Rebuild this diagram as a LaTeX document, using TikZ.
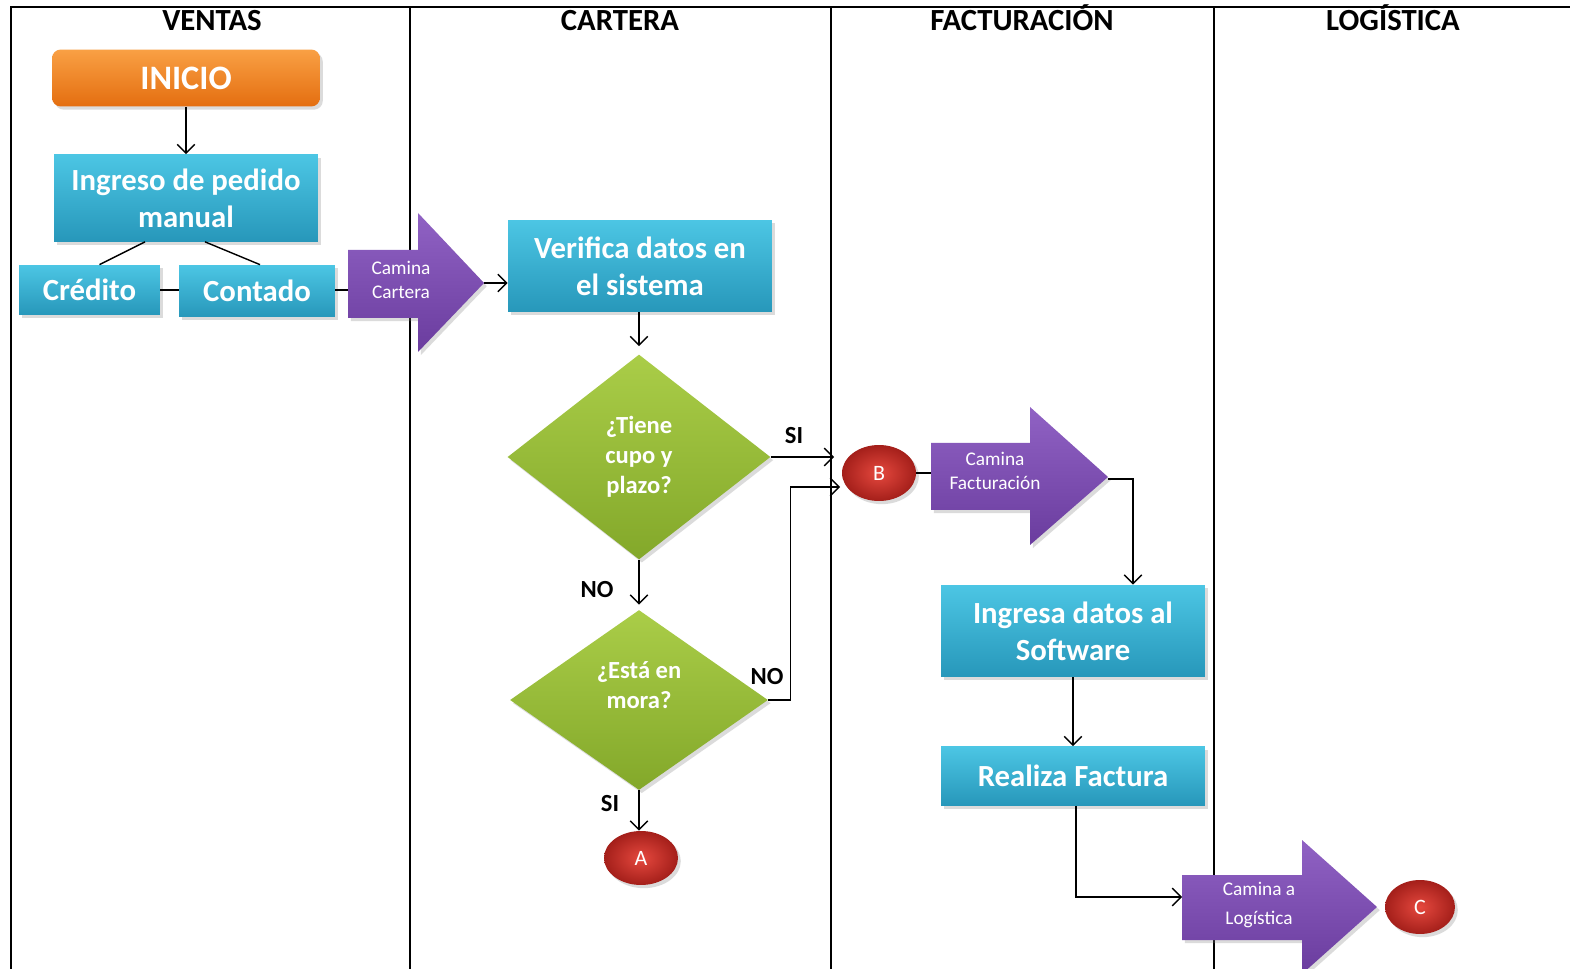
\documentclass[tikz,border=0pt]{standalone}
\usepackage{fontspec}
\setmainfont{Carlito}
\usetikzlibrary{arrows.meta,shapes.geometric,shadows,calc}

\definecolor{cyanT}{HTML}{4CC6E4}
\definecolor{cyanB}{HTML}{2797BA}
\definecolor{orgT}{HTML}{F9A044}
\definecolor{orgB}{HTML}{E46E10}
\definecolor{grnT}{HTML}{AACD48}
\definecolor{grnB}{HTML}{83A82A}
\definecolor{purT}{HTML}{9062C4}
\definecolor{purB}{HTML}{6A3C9E}
\definecolor{redI}{HTML}{E5483E}
\definecolor{redO}{HTML}{A41F1A}

\tikzset{
  soft/.style={drop shadow={opacity=0.28, shadow xshift=1.6pt, shadow yshift=-1.8pt}},
  box/.style={rectangle, soft, top color=cyanT, bottom color=cyanB, text=white,
    font=\bfseries\fontsize{17.5}{21}\selectfont, align=center, inner sep=0},
  startbox/.style={rectangle, rounded corners=5pt, soft, top color=orgT, bottom color=orgB,
    text=white, font=\bfseries\fontsize{19.5}{22}\selectfont, inner sep=0},
  decision/.style={diamond, soft, top color=grnT, bottom color=grnB, inner sep=0},
  dectext/.style={text=white, font=\bfseries\fontsize{14}{17}\selectfont, align=center},
  connector/.style={ellipse, soft, inner color=redI, outer color=redO, text=white,
    font=\fontsize{12.5}{13}\selectfont, inner sep=0},
  walk/.style={soft, top color=purT, bottom color=purB},
  walktext/.style={text=white, font=\fontsize{11}{13.5}\selectfont, align=center},
  flow/.style={line width=0.8pt, -{Straight Barb[length=5pt,width=10pt]}},
  link/.style={line width=0.8pt},
  lane/.style={line width=1.1pt},
  lanetitle/.style={font=\bfseries\fontsize{17.5}{20}\selectfont, anchor=base},
  answer/.style={font=\bfseries\fontsize{14}{16}\selectfont}
}

\begin{document}
\begin{tikzpicture}[x=0.02cm, y=-0.02cm]
\useasboundingbox (0,0) rectangle (1570,969);
\fill[white] (0,0) rectangle (1570,969);

% swimlane frame, kept behind the shapes
\draw[lane] (11,969) -- (11,7) -- (1570,7);
\draw[lane] (410,7) -- (410,969);
\draw[lane] (831,7) -- (831,969);
\draw[lane] (1214,7) -- (1214,969);

% lane titles
\node[lanetitle] (tVentas) at (212,31) {VENTAS};
\node[lanetitle] (tCartera) at (620,31) {CARTERA};
\node[lanetitle] (tFact) at (1022,31) {FACTURACIÓN};
\node[lanetitle] (tLog) at (1393,31) {LOGÍSTICA};

% VENTAS
\node[startbox, minimum width=5.36cm, minimum height=1.14cm] (inicio) at (186,78) {INICIO};
\node[box, minimum width=5.28cm, minimum height=1.74cm] (ingreso) at (186,198) {Ingreso de pedido\\manual};
\node[box, minimum width=2.82cm, minimum height=1.0cm] (credito) at (89.5,290) {Crédito};
\node[box, minimum width=3.12cm, minimum height=1.04cm] (contado) at (257,291) {Contado};

% walking arrow to CARTERA
\path[walk] (348,250) -- (418,250) -- (418,213) -- (484,283) -- (418,352) -- (418,318) -- (348,318) -- cycle;
\coordinate (wc-tail) at (348,290);
\coordinate (wc-tip) at (484,283);
\node[walktext] (wc) at (401,280) {Camina\\Cartera};

% CARTERA
\node[box, minimum width=5.28cm, minimum height=1.84cm] (verifica) at (640,266) {Verifica datos en\\el sistema};
\node[decision, minimum width=5.26cm, minimum height=4.1cm] (d1) at (639,457) {};
\node[dectext] (d1t) at (d1) {¿Tiene\\cupo y\\plazo?};
\node[decision, minimum width=5.16cm, minimum height=3.6cm] (d2) at (639,700) {};
\node[dectext] (d2t) at ([yshift=0.3cm]d2) {¿Está en\\mora?};
\node[connector, minimum width=1.48cm, minimum height=1.08cm] (A) at (641,858) {A};

% FACTURACION
\node[connector, minimum width=1.48cm, minimum height=1.12cm] (B) at (879,473) {B};
\coordinate (b-in1) at (834,457);
\coordinate (b-in2) at (840,487);
\path[walk] (931,443) -- (1030,443) -- (1030,407) -- (1108,477) -- (1030,545) -- (1030,510) -- (931,510) -- cycle;
\coordinate (wf-tail) at (931,468);
\coordinate (wf-tip) at (1108,479);
\node[walktext] (wf) at (995,471) {Camina\\Facturación};
\node[box, minimum width=5.28cm, minimum height=1.84cm] (ingresa) at (1073,631) {Ingresa datos al\\Software};
\node[box, minimum width=5.28cm, minimum height=1.18cm] (realiza) at (1073,776) {Realiza Factura};

% walking arrow to LOGISTICA
\path[walk] (1182,875) -- (1302,875) -- (1302,840) -- (1377,907) -- (1302,974) -- (1302,940) -- (1182,940) -- cycle;
\coordinate (wl-in) at (1182,897);
\coordinate (wl-tip) at (1377,907);
\node[walktext, font=\fontsize{11}{16}\selectfont] (wl) at (1259,905) {Camina a\\Logística};
\node[connector, minimum width=1.4cm, minimum height=1.08cm] (C) at (1420,907) {C};

% connectors
\draw[flow] (inicio) -- (ingreso);
\draw[link] ([xshift=-0.82cm]ingreso.south) -- ([xshift=0.2cm]credito.north);
\draw[link] ([xshift=0.38cm]ingreso.south) -- ([xshift=0.06cm]contado.north);
\draw[link] (credito.east) -- (credito.east -| contado.west);
\draw[link] (contado.east |- wc-tail) -- (wc-tail);
\draw[flow] (wc-tip) -- (verifica.west |- wc-tip);
\draw[flow] (verifica.south -| d1.north) -- ([yshift=0.16cm]d1.north);
\draw[flow] (d1.east) -- (d1.east -| b-in1);
\node[answer] (si1) at (794,436) {SI};
\draw[flow] (d1.south) -- ([yshift=0.1cm]d2.north);
\node[answer] (no1) at (597,590) {NO};
\draw[flow] (d2.east) -- ++(22,0) |- (b-in2);
\node[answer] (no2) at (767,677) {NO};
\draw[flow] (d2.south) -- (d2.south |- A.north);
\node[answer] (si2) at (610,804) {SI};
\draw[link] (B.east) -- (B.east -| wf-tail);
\draw[flow] (wf-tip) -| ([xshift=1.2cm]ingresa.north);
\draw[flow] (ingresa.south) -- (realiza.north);
\draw[flow] ([xshift=0.06cm]realiza.south) |- (wl-in);
\end{tikzpicture}
\end{document}
